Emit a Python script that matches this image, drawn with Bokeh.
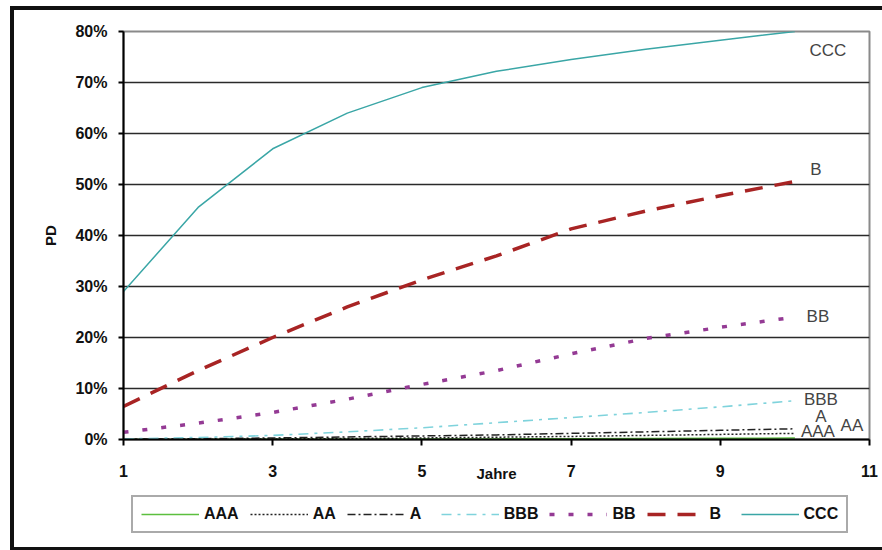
from bokeh.plotting import figure
from bokeh.layouts import column
from bokeh.models import (ColumnDataSource, Legend, LegendItem, FixedTicker,
                          PrintfTickFormatter, Range1d)
from bokeh.core.properties import value
from bokeh.embed import file_html
from bokeh.resources import INLINE

# ---------------- data (PD in percent) ----------------
years = [1, 2, 3, 4, 5, 6, 7, 8, 9, 10]
pd_AAA = [0.01, 0.02, 0.04, 0.06, 0.09, 0.12, 0.15, 0.19, 0.23, 0.28]
pd_AA = [0.02, 0.05, 0.10, 0.20, 0.30, 0.45, 0.60, 0.80, 1.00, 1.20]
pd_A = [0.05, 0.15, 0.30, 0.50, 0.70, 0.90, 1.20, 1.50, 1.80, 2.10]
pd_BBB = [0.1, 0.4, 0.8, 1.5, 2.3, 3.3, 4.3, 5.3, 6.4, 7.6]
pd_BB = [1.4, 3.2, 5.3, 7.9, 10.8, 13.5, 16.8, 19.8, 22.0, 24.0]
pd_B = [6.5, 13.5, 20.0, 26.0, 31.3, 36.0, 41.3, 44.8, 47.8, 50.6]
pd_CCC = [29.0, 45.5, 57.0, 64.0, 69.0, 72.2, 74.5, 76.5, 78.3, 80.0]

series_names = ["AAA", "AA", "A", "BBB", "BB", "B", "CCC"]
series_values = [pd_AAA, pd_AA, pd_A, pd_BBB, pd_BB, pd_B, pd_CCC]

x_ticks = [1, 3, 5, 7, 9, 11]
y_ticks = [0, 10, 20, 30, 40, 50, 60, 70, 80]

x_title = "Jahre"
y_title = "PD"

# ---------------- styles ----------------
styles = {
    "AAA": dict(line_color="#5cbf3f", line_width=1.5, line_dash="solid"),
    "AA": dict(line_color="#222222", line_width=1.5, line_dash="2 2"),
    "A": dict(line_color="#222222", line_width=1.5, line_dash="8 3 2 3"),
    "BBB": dict(line_color="#7fd3dc", line_width=1.6, line_dash="10 6 3 6"),
    "BB": dict(line_color="#943a94", line_width=3.5, line_dash="5 14"),
    "B": dict(line_color="#a82424", line_width=3.5, line_dash="18 12"),
    "CCC": dict(line_color="#3aa6a6", line_width=1.5, line_dash="solid"),
}
# pixel offsets of the end labels from each series' last point
label_offsets = {
    "AAA": (23, -7), "AA": (57, -8), "A": (26, -12), "BBB": (26, -1),
    "BB": (23, -1), "B": (21, -12), "CCC": (33, 19),
}

FONT = "Liberation Sans"

# ---------------- main chart ----------------
p = figure(width=882, height=490, output_backend="svg", toolbar_location=None,
           x_range=Range1d(1, 11), y_range=Range1d(0, 80),
           min_border_left=123, min_border_right=13,
           min_border_top=31, min_border_bottom=51)
p.background_fill_color = "white"
p.border_fill_color = "white"
p.outline_line_color = "#8a8a8a"
p.outline_line_width = 2

p.xgrid.visible = False
p.ygrid.ticker = FixedTicker(ticks=y_ticks)
p.ygrid.grid_line_color = "#2a2a2a"
p.ygrid.grid_line_width = 1.6

p.xaxis.ticker = FixedTicker(ticks=x_ticks)
p.yaxis.ticker = FixedTicker(ticks=y_ticks)
p.yaxis.formatter = PrintfTickFormatter(format="%d%%")
for ax in (p.xaxis, p.yaxis):
    ax.axis_line_color = "black"
    ax.axis_line_width = 2
    ax.major_tick_line_color = "black"
    ax.major_tick_line_width = 2
    ax.major_tick_in = 0
    ax.minor_tick_line_color = None
    ax.major_label_text_font = FONT
    ax.major_label_text_font_style = "bold"
    ax.major_label_text_font_size = "16px"
    ax.major_label_text_color = "#111111"
    ax.axis_label_text_font = FONT
    ax.axis_label_text_font_style = "bold"
    ax.axis_label_text_font_size = "15px"
    ax.axis_label_text_color = "#111111"
p.xaxis.major_tick_out = 6
p.yaxis.major_tick_out = 5
p.xaxis.major_label_standoff = 19
p.yaxis.major_label_standoff = 11
p.xaxis.axis_label = x_title
p.yaxis.axis_label = y_title
p.xaxis.axis_label_standoff = -15
p.yaxis.axis_label_standoff = 13

for name, vals in zip(series_names, series_values):
    src = ColumnDataSource(dict(x=years, y=vals))
    p.line("x", "y", source=src, **styles[name])

# end labels
lx, ly, lt, ox, oy = [], [], [], [], []
for name, vals in zip(series_names, series_values):
    lx.append(years[-1])
    ly.append(vals[-1])
    lt.append(name)
    ox.append(label_offsets[name][0])
    oy.append(label_offsets[name][1])
lsrc = ColumnDataSource(dict(x=lx, y=ly, t=lt, ox=ox, oy=oy))
p.text("x", "y", text="t", source=lsrc, x_offset="ox", y_offset="oy",
       text_align="center", text_baseline="middle",
       text_font=value(FONT), text_font_size="17px", text_color="#444444")

# ---------------- legend strip (frame aligned with the chart) ----------------
q = figure(width=882, height=60, output_backend="svg", toolbar_location=None,
           x_range=Range1d(-3, -2), y_range=Range1d(-3, -2),
           min_border_left=0, min_border_right=0,
           min_border_top=0, min_border_bottom=0)
q.axis.visible = False
q.grid.visible = False
q.outline_line_color = None
q.background_fill_color = "white"
q.border_fill_color = "white"

items = []
for name, vals in zip(series_names, series_values):
    # same series, drawn outside this strip's visible ranges: only the legend samples show
    r = q.line(x=years, y=vals, **styles[name])
    items.append(LegendItem(label=name, renderers=[r]))

legend = Legend(items=items, orientation="horizontal", location=(8, 17),
                label_text_font=FONT, label_text_font_style="bold",
                label_text_font_size="16px", label_text_color="#111111",
                glyph_width=58, glyph_height=18, label_standoff=5,
                spacing=11, padding=8, margin=0,
                border_line_color="#555555", border_line_width=2,
                background_fill_color="white", background_fill_alpha=1.0)
q.add_layout(legend)

root = column(p, q, spacing=0)

html = file_html(root, INLINE)
# black picture frame (left, top, bottom) as a page overlay
frame_div = ('<div style="position:fixed;left:10px;top:6px;width:900px;height:537px;'
             'border-left:4px solid #111;border-top:4px solid #111;'
             'border-bottom:3px solid #111;pointer-events:none;"></div>')
html = html.replace("</body>", frame_div + "</body>")
open("out.html", "w").write(html)
